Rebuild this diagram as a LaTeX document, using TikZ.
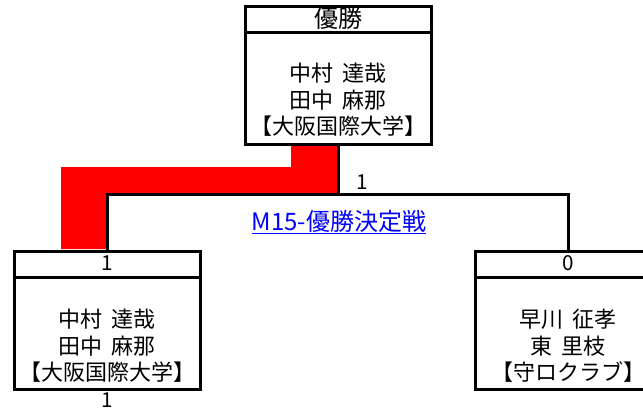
\documentclass[tikz,border=0pt]{standalone}
\usepackage{fontspec}
\newfontfamily\jp{Noto Sans CJK JP}
\newcommand{\hsp}{\hspace{0.45em}}
\begin{document}
\begin{tikzpicture}[x=0.75pt,y=-0.75pt]
\tikzset{
 box/.style={draw=black, line width=2.25pt, fill=white, minimum width=139.5pt, minimum height=103.5pt, inner sep=0pt, anchor=north},
 sep/.style={draw=black, line width=2.25pt},
 conn/.style={draw=black, line width=2.25pt},
 names/.style={font=\jp\fontsize{16.5}{20}\selectfont, align=center, inner sep=0pt},
 title/.style={font=\jp\fontsize{18}{20}\selectfont, inner sep=0pt},
 score/.style={font=\jp\fontsize{15.5}{16}\selectfont, inner sep=0pt},
 link/.style={font=\jp\fontsize{18}{20}\selectfont, text=blue, inner sep=0pt},
 band/.style={fill=red}
}
\useasboundingbox (0,0) rectangle (643,411);
\clip (0,0) rectangle (643,411);
% red winner path
\fill[band] (61,249) -- (61,167) -- (291,167) -- (291,142) -- (337,142) -- (337,194) -- (107,194) -- (107,249) -- cycle;
% boxes
\node[box] (champ) at (338,5) {};
\node[box] (lbox) at (107,250) {};
\node[box] (rbox) at (568,250) {};
\draw[sep] (245,32) -- (431,32);
\draw[sep] (14,277) -- (200,277);
\draw[sep] (475,277) -- (661,277);
% connectors
\coordinate (j) at (338,194);
\draw[conn] (champ.south) -- (j);
\draw[conn] (j) -| (lbox.north);
\draw[conn] (j) -| (rbox.north);
% texts
\node[title] (champh) at (338,18) {優勝};
\node[names] (champn) at (338,100) {中村\hsp 達哉\\田中\hsp 麻那\\【大阪国際大学】};
\node[score] (s1) at (362,182) {1};
\node[link] (lnk) at (339,221) {M15-優勝決定戦};
\draw[blue, line width=1.1pt] ([yshift=-1pt]lnk.south west) -- ([yshift=-1pt]lnk.south east);
\node[score] (lh) at (107,263) {1};
\node[names] (ln) at (107,346) {中村\hsp 達哉\\田中\hsp 麻那\\【大阪国際大学】};
\node[score] (lb) at (107,400) {1};
\node[score] (rh) at (568,263) {0};
\node[names] (rn) at (568,346) {早川\hsp 征孝\\東\hsp 里枝\\【守ロクラブ】};
\end{tikzpicture}
\end{document}
